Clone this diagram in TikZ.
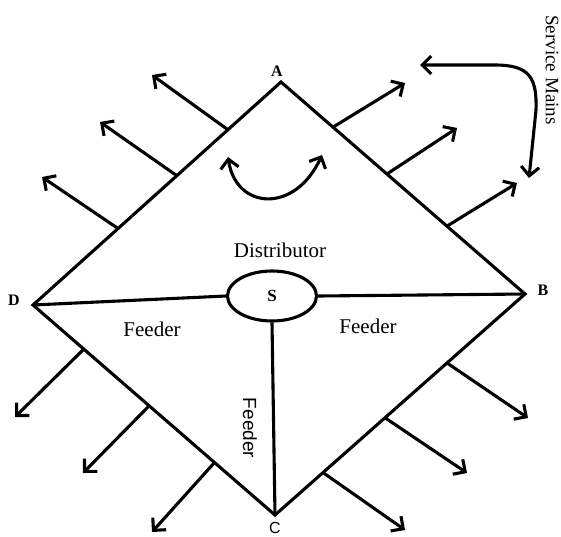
\documentclass[tikz,border=0pt]{standalone}
\usepackage{fontspec}
\setmainfont{Liberation Serif}
\newfontfamily\labsans{Liberation Sans}
\usetikzlibrary{arrows.meta,calc,shapes.geometric}
\begin{document}
\begin{tikzpicture}[x=1pt,y=-1pt,
  wire/.style={line width=3.1pt},
  outarrow/.style={line width=3.1pt,-{Straight Barb[length=9pt,width=18pt,line width=3.1pt]}},
  twoway/.style={line width=3.1pt,{Straight Barb[length=9pt,width=18pt,line width=3.1pt]}-{Straight Barb[length=9pt,width=18pt,line width=3.1pt]}},
  vlabel/.style={font=\fontsize{16}{18}\selectfont\bfseries, inner sep=0pt},
  txt/.style={font=\fontsize{21}{24}\selectfont, inner sep=0pt}]
\useasboundingbox (0,0) rectangle (561,536);
% vertices
\coordinate (A) at (281,82);
\coordinate (B) at (525,294);
\coordinate (C) at (275,515);
\coordinate (D) at (33,305);
% diamond
\draw[wire, line join=miter] (A) -- (B) -- (C) -- (D) -- cycle;
% substation
\node[ellipse, draw, line width=3.1pt, minimum width=89pt, minimum height=50pt, inner sep=0pt,
      font=\fontsize{17}{19}\selectfont\bfseries] (S) at (272,296) {S};
\draw[wire] (D) -- (S.west);
\draw[wire] (S.east) -- (B);
\draw[wire] (S.south) -- (C);
% vertex labels
\node[vlabel] (lA) at (277,71) {A};
\node[vlabel] (lB) at (543,290) {B};
\node[vlabel, font=\fontsize{16}{18}\selectfont\labsans] (lC) at (275,528) {C};
\node[vlabel] (lD) at (14,300) {D};
% texts
\node[txt] (dist) at (280,250) {Distributor};
\node[txt] (f1) at (152,329) {Feeder};
\node[txt] (f2) at (368,326) {Feeder};
\node[inner sep=0pt, rotate=-90, font=\fontsize{19}{22}\selectfont\labsans] (f3) at (250,428) {Feeder};
\node[inner sep=0pt, rotate=-90, font=\fontsize{19}{22}\selectfont] (sm) at (552,70) {Service Mains};
% service arrows upper left (on D--A)
\coordinate (ul1) at ($(D)!0.786!(A)$); \coordinate (ult1) at (152,75);
\coordinate (ul2) at ($(D)!0.58!(A)$);  \coordinate (ult2) at (100,122);
\coordinate (ul3) at ($(D)!0.343!(A)$); \coordinate (ult3) at (42,177);
\draw[outarrow] (ul1) -- (ult1);
\draw[outarrow] (ul2) -- (ult2);
\draw[outarrow] (ul3) -- (ult3);
% upper right (on A--B)
\coordinate (ur1) at ($(A)!0.213!(B)$); \coordinate (urt1) at (405,83);
\coordinate (ur2) at ($(A)!0.434!(B)$); \coordinate (urt2) at (457,128);
\coordinate (ur3) at ($(A)!0.68!(B)$);  \coordinate (urt3) at (517,183);
\draw[outarrow] (ur1) -- (urt1);
\draw[outarrow] (ur2) -- (urt2);
\draw[outarrow] (ur3) -- (urt3);
% lower left (on D--C)
\coordinate (ll1) at ($(D)!0.21!(C)$); \coordinate (llt1) at (15,417);
\coordinate (ll2) at ($(D)!0.48!(C)$); \coordinate (llt2) at (83,473);
\coordinate (ll3) at ($(D)!0.75!(C)$); \coordinate (llt3) at (152,532);
\draw[outarrow] (ll1) -- (llt1);
\draw[outarrow] (ll2) -- (llt2);
\draw[outarrow] (ll3) -- (llt3);
% lower right (on C--B)
\coordinate (lr1) at ($(C)!0.192!(B)$); \coordinate (lrt1) at (405,530);
\coordinate (lr2) at ($(C)!0.44!(B)$);  \coordinate (lrt2) at (467,473);
\coordinate (lr3) at ($(C)!0.688!(B)$); \coordinate (lrt3) at (528,418);
\draw[outarrow] (lr1) -- (lrt1);
\draw[outarrow] (lr2) -- (lrt2);
\draw[outarrow] (lr3) -- (lrt3);
% inner curved double arrow
\coordinate (cl) at (228,157);
\coordinate (cr) at (322,155);
\draw[twoway] (cl) .. controls (236,210) and (295,214) .. (cr);
% service mains curved double arrow
\coordinate (sa) at (420,65);
\coordinate (sb) at (529,178);
\draw[twoway] (sa) -- (495,65) .. controls (530,65) and (537,78) .. (536,110) -- (sb);
\end{tikzpicture}
\end{document}
